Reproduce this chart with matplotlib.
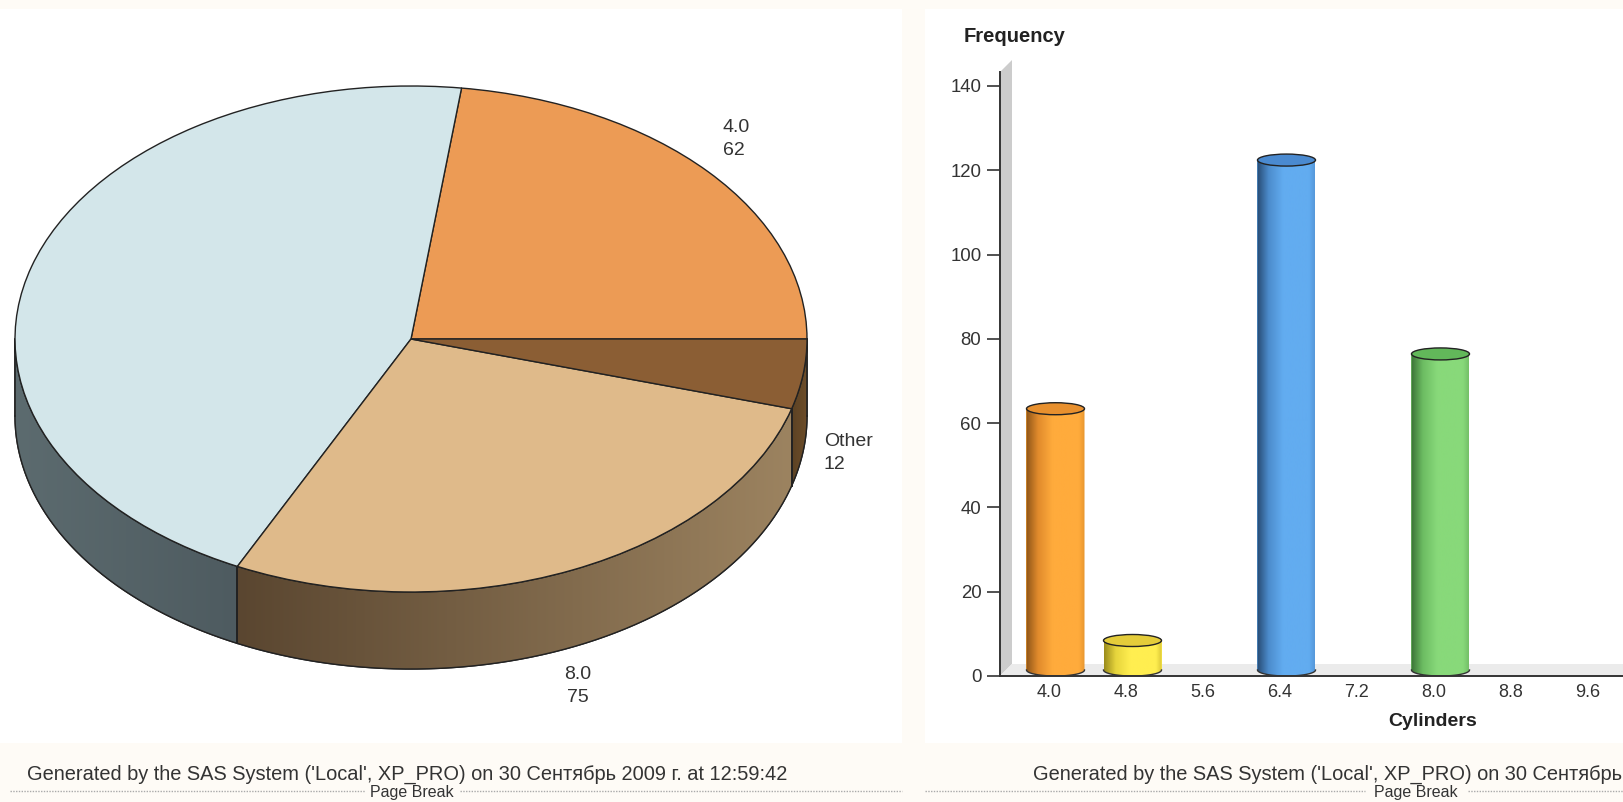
import numpy as np
import matplotlib
matplotlib.use("Agg")
import matplotlib.pyplot as plt
from matplotlib.colors import LinearSegmentedColormap
from matplotlib.patches import Ellipse, Polygon, Rectangle

# ---- data ----
pie_categories = ["4.0", "6.4", "8.0", "Other"]
pie_values = [62, 121, 75, 12]
pie_labels = ["4.0\n62", "", "8.0\n75", "Other\n12"]
bar_categories = [4.0, 4.8, 6.4, 8.0]
bar_values = [62, 7, 121, 75]
x_ticks = [4.0, 4.8, 5.6, 6.4, 7.2, 8.0, 8.8, 9.6]
y_ticks = [0, 20, 40, 60, 80, 100, 120, 140]
footer_left = "Generated by the SAS System ('Local', XP_PRO) on 30 Сентябрь 2009 г. at 12:59:42"
footer_right = "Generated by the SAS System ('Local', XP_PRO) on 30 Сентябрь"

# ---- style ----
W, H = 1624, 802
plt.rcParams["font.family"] = ["Liberation Sans", "DejaVu Sans"]
TXT = "#333333"
CREAM = "#FEFBF6"
pie_colors = ["#EC9B55", "#D3E6EA", "#DFBA8A", "#8B5E34"]
wall_colors = [("#6A4A28", "#6A4A28"), ("#5C6B6F", "#4E5B60"),
               ("#5A4630", "#9C8360"), ("#5C4224", "#6E4E2A")]
bar_grad = [["#8E5518", "#E08A2C", "#FFAB3C", "#FFAB3C", "#E8962F"],
            ["#9A8C1C", "#E6D43C", "#FFEE50", "#FFEE50", "#DCC838"],
            ["#274A72", "#4C8CCC", "#62ACF0", "#62ACF0", "#5698DA"],
            ["#3A7236", "#6CBC62", "#88D97A", "#88D97A", "#74C068"]]
bar_tops = ["#E8902E", "#E4CC3A", "#4A8AD0", "#62B85A"]

fig = plt.figure(figsize=(W / 100, H / 100), dpi=100, facecolor=CREAM)


def px_axes(l, t, r, b, **kw):
    return fig.add_axes([l / W, 1 - b / H, (r - l) / W, (b - t) / H], **kw)


# background panels
bg = px_axes(0, 0, W, H)
bg.set_xlim(0, W)
bg.set_ylim(H, 0)
bg.axis("off")
bg.add_patch(Rectangle((0, 9), 902, 734, fc="white", ec="none"))
bg.add_patch(Rectangle((925, 9), W - 925, 734, fc="white", ec="none"))
for x0, x1 in [(10, 365), (460, 902), (925, 1365), (1468, W)]:
    bg.plot([x0, x1], [791, 791], color="#AAAAAA", lw=1, ls=(0, (1, 1)))
bg.text(27, 774, footer_left, fontsize=14.4, color=TXT, va="center", ha="left")
bg.text(1033, 774, footer_right, fontsize=14.4, color=TXT, va="center", ha="left")
bg.text(412, 792, "Page Break", fontsize=11.5, color=TXT, va="center", ha="center")
bg.text(1416, 792, "Page Break", fontsize=11.5, color=TXT, va="center", ha="center")

# ---- pie ----
CX, CY, RX, RY, DEPTH = 411, 339, 396, 253, 77
ax = px_axes(0, 9, 902, 743)
ax.patch.set_alpha(0)
xl = ((0 - CX) / RX, (902 - CX) / RX)
yl = ((CY - 743) / RY, (CY - 9) / RY)
d = DEPTH / RY
ang = np.concatenate([[0], np.cumsum(pie_values)]) / np.sum(pie_values) * 360

for i in range(len(pie_values)):
    a0, a1 = max(ang[i], 180), ang[i + 1]
    if a1 <= a0:
        continue
    t = np.radians(np.linspace(a0, a1, 120))
    xs, ys = np.cos(t), np.sin(t)
    verts = np.vstack([np.c_[xs, ys], np.c_[xs[::-1], ys[::-1] - d]])
    poly = Polygon(verts, closed=True, fc=wall_colors[i][0], ec="#222222", lw=1, zorder=1)
    ax.add_patch(poly)
    cmap = LinearSegmentedColormap.from_list("w", wall_colors[i])
    im = ax.imshow(np.linspace(0, 1, 256)[None, :], cmap=cmap, aspect="auto", zorder=1.5,
                   extent=(xs.min(), xs.max(), ys.min() - d, ys.max()))
    im.set_clip_path(Polygon(verts, closed=True, transform=ax.transData))
    ax.plot(np.r_[xs, np.nan, xs], np.r_[ys, np.nan, ys - d], color="#222222", lw=1, zorder=2)
    for xv, yv in [(xs[0], ys[0]), (xs[-1], ys[-1])]:
        ax.plot([xv, xv], [yv, yv - d], color="#222222", lw=1.2, zorder=2)

ax.pie(pie_values, colors=pie_colors, startangle=0, counterclock=True, radius=1, center=(0, 0),
       wedgeprops=dict(edgecolor="#222222", linewidth=1, zorder=3), frame=False)
ax.set_aspect("auto")
ax.set_xlim(*xl)
ax.set_ylim(*yl)
ax.axis("off")

label_pos = {0: (723, 139), 2: (578, 686), 3: (824, 453)}
for i, (px, py) in label_pos.items():
    bg.text(px, py, pie_labels[i], fontsize=14, color=TXT, zorder=6, linespacing=1.43,
            ha="center" if i == 2 else "left", va="center")

# ---- bar chart ----
PX_X = 77 / 0.8
PX_Y = 590 / 140
ax2 = px_axes(1000, 72, W, 676)
ax2.patch.set_alpha(0)
ax2.set_xlim(4.0 - 49 / PX_X, 4.0 + (W - 1049) / PX_X)
ax2.set_ylim(0, 604 / PX_Y)

# back wall and floor depth
dx, dy = 12 / PX_X, 12 / PX_Y
ax2.add_patch(Polygon([(ax2.get_xlim()[0], 0), (ax2.get_xlim()[0] + dx, dy),
                       (ax2.get_xlim()[1], dy), (ax2.get_xlim()[1], 0)],
                      fc="#EBEBEB", ec="none", zorder=0.5))
bg.add_patch(Polygon([(1000, 72), (1012, 60), (1012, 664), (1000, 676)], fc="#CCCCCC", ec="none", zorder=3))

width = 58 / PX_X
shift = 6.5 / PX_X
base = 6 / PX_Y
eh = 12 / PX_Y
bars = ax2.bar(np.array(bar_categories) + shift, bar_values, width=width, bottom=base,
               color=[g[2] for g in bar_grad], edgecolor="none", zorder=2)
for rect, grad, top in zip(bars, bar_grad, bar_tops):
    x0, w, y1 = rect.get_x(), rect.get_width(), rect.get_y() + rect.get_height()
    xc = x0 + w / 2
    t = np.linspace(np.pi, 2 * np.pi, 60)
    arc = np.c_[xc + w / 2 * np.cos(t), base + eh / 2 * np.sin(t)]
    verts = np.vstack([[(x0, y1)], arc, [(x0 + w, y1)]])
    cmap = LinearSegmentedColormap.from_list("b", list(zip([0, .2, .45, .9, 1], grad)))
    im = ax2.imshow(np.linspace(0, 1, 128)[None, :], cmap=cmap, aspect="auto", zorder=2.5,
                    extent=(x0, x0 + w, 0, y1))
    im.set_clip_path(Polygon(verts, closed=True, transform=ax2.transData))
    ax2.plot(arc[:, 0], arc[:, 1], color="#333333", lw=1, zorder=3)
    ax2.add_patch(Ellipse((xc, y1), w, eh, fc=top, ec="#222222", lw=1, zorder=4))
ax2.set_xlim(4.0 - 49 / PX_X, 4.0 + (W - 1049) / PX_X)
ax2.set_ylim(0, 604 / PX_Y)

ax2.set_xticks(x_ticks)
ax2.set_xticklabels([f"{v:.1f}" for v in x_ticks])
ax2.set_yticks(y_ticks)
ax2.tick_params(axis="x", length=0, pad=6, labelsize=13, labelcolor=TXT)
ax2.tick_params(axis="y", length=9.4, width=1.2, pad=4, labelsize=13.4, labelcolor=TXT, color="#333333")
for s in ("top", "right"):
    ax2.spines[s].set_visible(False)
for s in ("left", "bottom"):
    ax2.spines[s].set_linewidth(1.4)
    ax2.spines[s].set_color("#333333")
    ax2.spines[s].set_zorder(5)

bg.text(964, 37, "Frequency", fontsize=14.5, fontweight="bold", color="#222222", ha="left", va="center")
bg.text(1433, 721, "Cylinders", fontsize=14, fontweight="bold", color="#222222", ha="center", va="center")

fig.savefig("out.png", dpi=100, facecolor=fig.get_facecolor())
